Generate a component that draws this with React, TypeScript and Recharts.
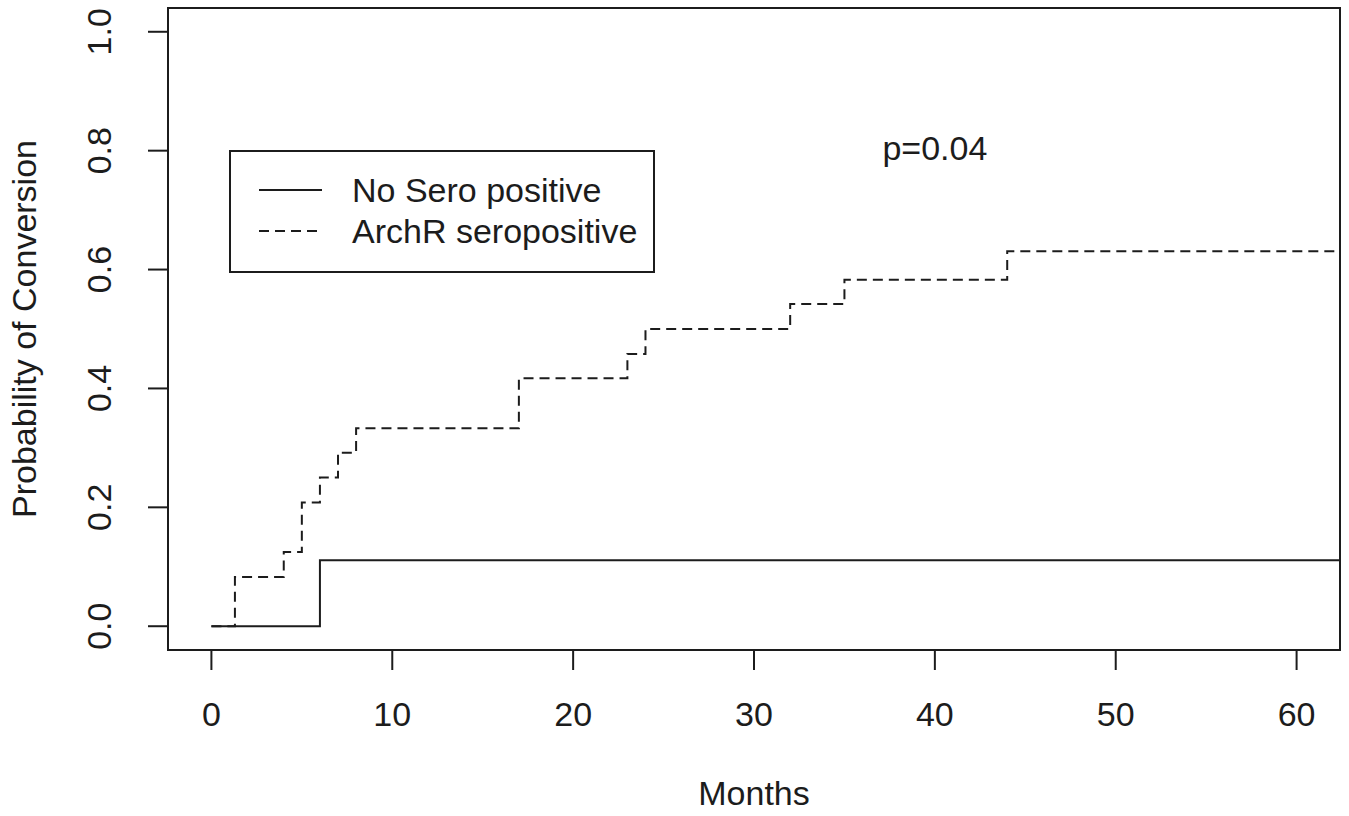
import React from 'react';
import { LineChart, Line, XAxis, YAxis, ReferenceArea, ReferenceDot, Legend, Label } from 'recharts';

const FONT = '"Liberation Sans", Arial, Helvetica, sans-serif';
const INK = '#1c1c1c';
const FS = 34;

const noSeroMonths = [0, 6, 62.4];
const noSeroProb = [0, 0.111, 0.111];
const archRMonths = [0, 1.3, 4, 5, 6, 7, 8, 17, 23, 24, 32, 35, 44, 62.4];
const archRProb = [0, 0.083, 0.125, 0.208, 0.25, 0.292, 0.333, 0.417, 0.458, 0.5, 0.542, 0.583, 0.631, 0.631];
const xTicks = [0, 10, 20, 30, 40, 50, 60];
const yTicks = [0, 0.2, 0.4, 0.6, 0.8, 1.0];
const yTickLabels = ['0.0', '0.2', '0.4', '0.6', '0.8', '1.0'];
const seriesNames = ['No Sero positive', 'ArchR seropositive'];
const seriesDash = ['', '10 6'];
const xTitle = 'Months';
const yTitle = 'Probability of Conversion';
const pValueText = 'p=0.04';
const pValueAt = { month: 40, prob: 0.8 };
const xDomain = [-2.4, 62.4];
const yDomain = [-0.04, 1.04];

const noSeroData = noSeroMonths.map((m, i) => ({ month: m, prob: noSeroProb[i] }));
const archRData = archRMonths.map((m, i) => ({ month: m, prob: archRProb[i] }));

const XTick = (props: any) => {
  const { x, y, payload } = props;
  return (
    <text x={x} y={y + 54} textAnchor="middle" fontFamily={FONT} fontSize={FS} fill={INK}>
      {payload.value}
    </text>
  );
};

const YTick = (props: any) => {
  const { x, y, payload } = props;
  const idx = yTicks.findIndex((t) => Math.abs(t - payload.value) < 1e-9);
  const lbl = idx >= 0 ? yTickLabels[idx] : String(payload.value);
  return (
    <text transform={`translate(${x - 35}, ${y}) rotate(-90)`} textAnchor="middle" fontFamily={FONT} fontSize={FS} fill={INK}>
      {lbl}
    </text>
  );
};

const XTitle = (props: any) => {
  const vb = props.viewBox;
  return (
    <text x={vb.x + vb.width / 2} y={vb.y + 155} textAnchor="middle" fontFamily={FONT} fontSize={FS} fill={INK}>
      {xTitle}
    </text>
  );
};

const YTitle = (props: any) => {
  const vb = props.viewBox;
  return (
    <text transform={`translate(36, ${vb.y + vb.height / 2}) rotate(-90)`} textAnchor="middle" fontFamily={FONT} fontSize={FS} fill={INK}>
      {yTitle}
    </text>
  );
};

const PLabel = (props: any) => {
  const vb = props.viewBox;
  const cx = vb.x + (vb.width || 0) / 2;
  const cy = vb.y + (vb.height || 0) / 2;
  return (
    <text x={cx} y={cy + 9} textAnchor="middle" fontFamily={FONT} fontSize={FS} fill={INK}>
      {pValueText}
    </text>
  );
};

const LegendBox = () => (
  <svg width={426} height={123} style={{ display: 'block' }}>
    <rect x={1} y={1} width={424} height={121} fill="#fff" stroke={INK} strokeWidth={2} />
    {seriesNames.map((name, i) => (
      <g key={name}>
        <line x1={30} x2={93} y1={40 + i * 41} y2={40 + i * 41} stroke={INK} strokeWidth={2} strokeDasharray={seriesDash[i] || undefined} />
        <text x={123} y={52 + i * 41} fontFamily={FONT} fontSize={FS} fill={INK}>
          {name}
        </text>
      </g>
    ))}
  </svg>
);

export default function App() {
  return (
    <div style={{ position: 'absolute', left: 0, top: 0, width: 1349, height: 816, background: '#fff' }}>
      <LineChart width={1349} height={816} margin={{ top: 8, right: 9, bottom: 0, left: 0 }}>
        <XAxis
          type="number"
          dataKey="month"
          domain={xDomain}
          ticks={xTicks}
          allowDataOverflow
          height={166}
          tickSize={20}
          tickLine={{ stroke: INK, strokeWidth: 2 }}
          axisLine={false}
          tick={<XTick />}
        >
          <Label content={<XTitle />} />
        </XAxis>
        <YAxis
          type="number"
          dataKey="prob"
          domain={yDomain}
          ticks={yTicks}
          allowDataOverflow
          width={168}
          tickSize={20}
          tickLine={{ stroke: INK, strokeWidth: 2 }}
          axisLine={false}
          tick={<YTick />}
        >
          <Label content={<YTitle />} />
        </YAxis>
        <Line
          data={noSeroData}
          dataKey="prob"
          name={seriesNames[0]}
          type="stepAfter"
          stroke={INK}
          strokeWidth={2}
          dot={false}
          activeDot={false}
          isAnimationActive={false}
        />
        <Line
          data={archRData}
          dataKey="prob"
          name={seriesNames[1]}
          type="stepAfter"
          stroke={INK}
          strokeWidth={2}
          strokeDasharray={seriesDash[1]}
          dot={false}
          activeDot={false}
          isAnimationActive={false}
        />
        <ReferenceArea
          x1={xDomain[0]}
          x2={xDomain[1]}
          y1={yDomain[0]}
          y2={yDomain[1]}
          fill="none"
          fillOpacity={0}
          stroke={INK}
          strokeWidth={2}
          ifOverflow="visible"
        />
        <ReferenceDot x={pValueAt.month} y={pValueAt.prob} r={0} fill="none" stroke="none" label={<PLabel />} ifOverflow="visible" />
        <Legend
          layout="vertical"
          align="center"
          verticalAlign="middle"
          content={<LegendBox />}
          wrapperStyle={{ position: 'absolute', left: 229, top: 150, width: 426, height: 123 }}
        />
      </LineChart>
    </div>
  );
}
